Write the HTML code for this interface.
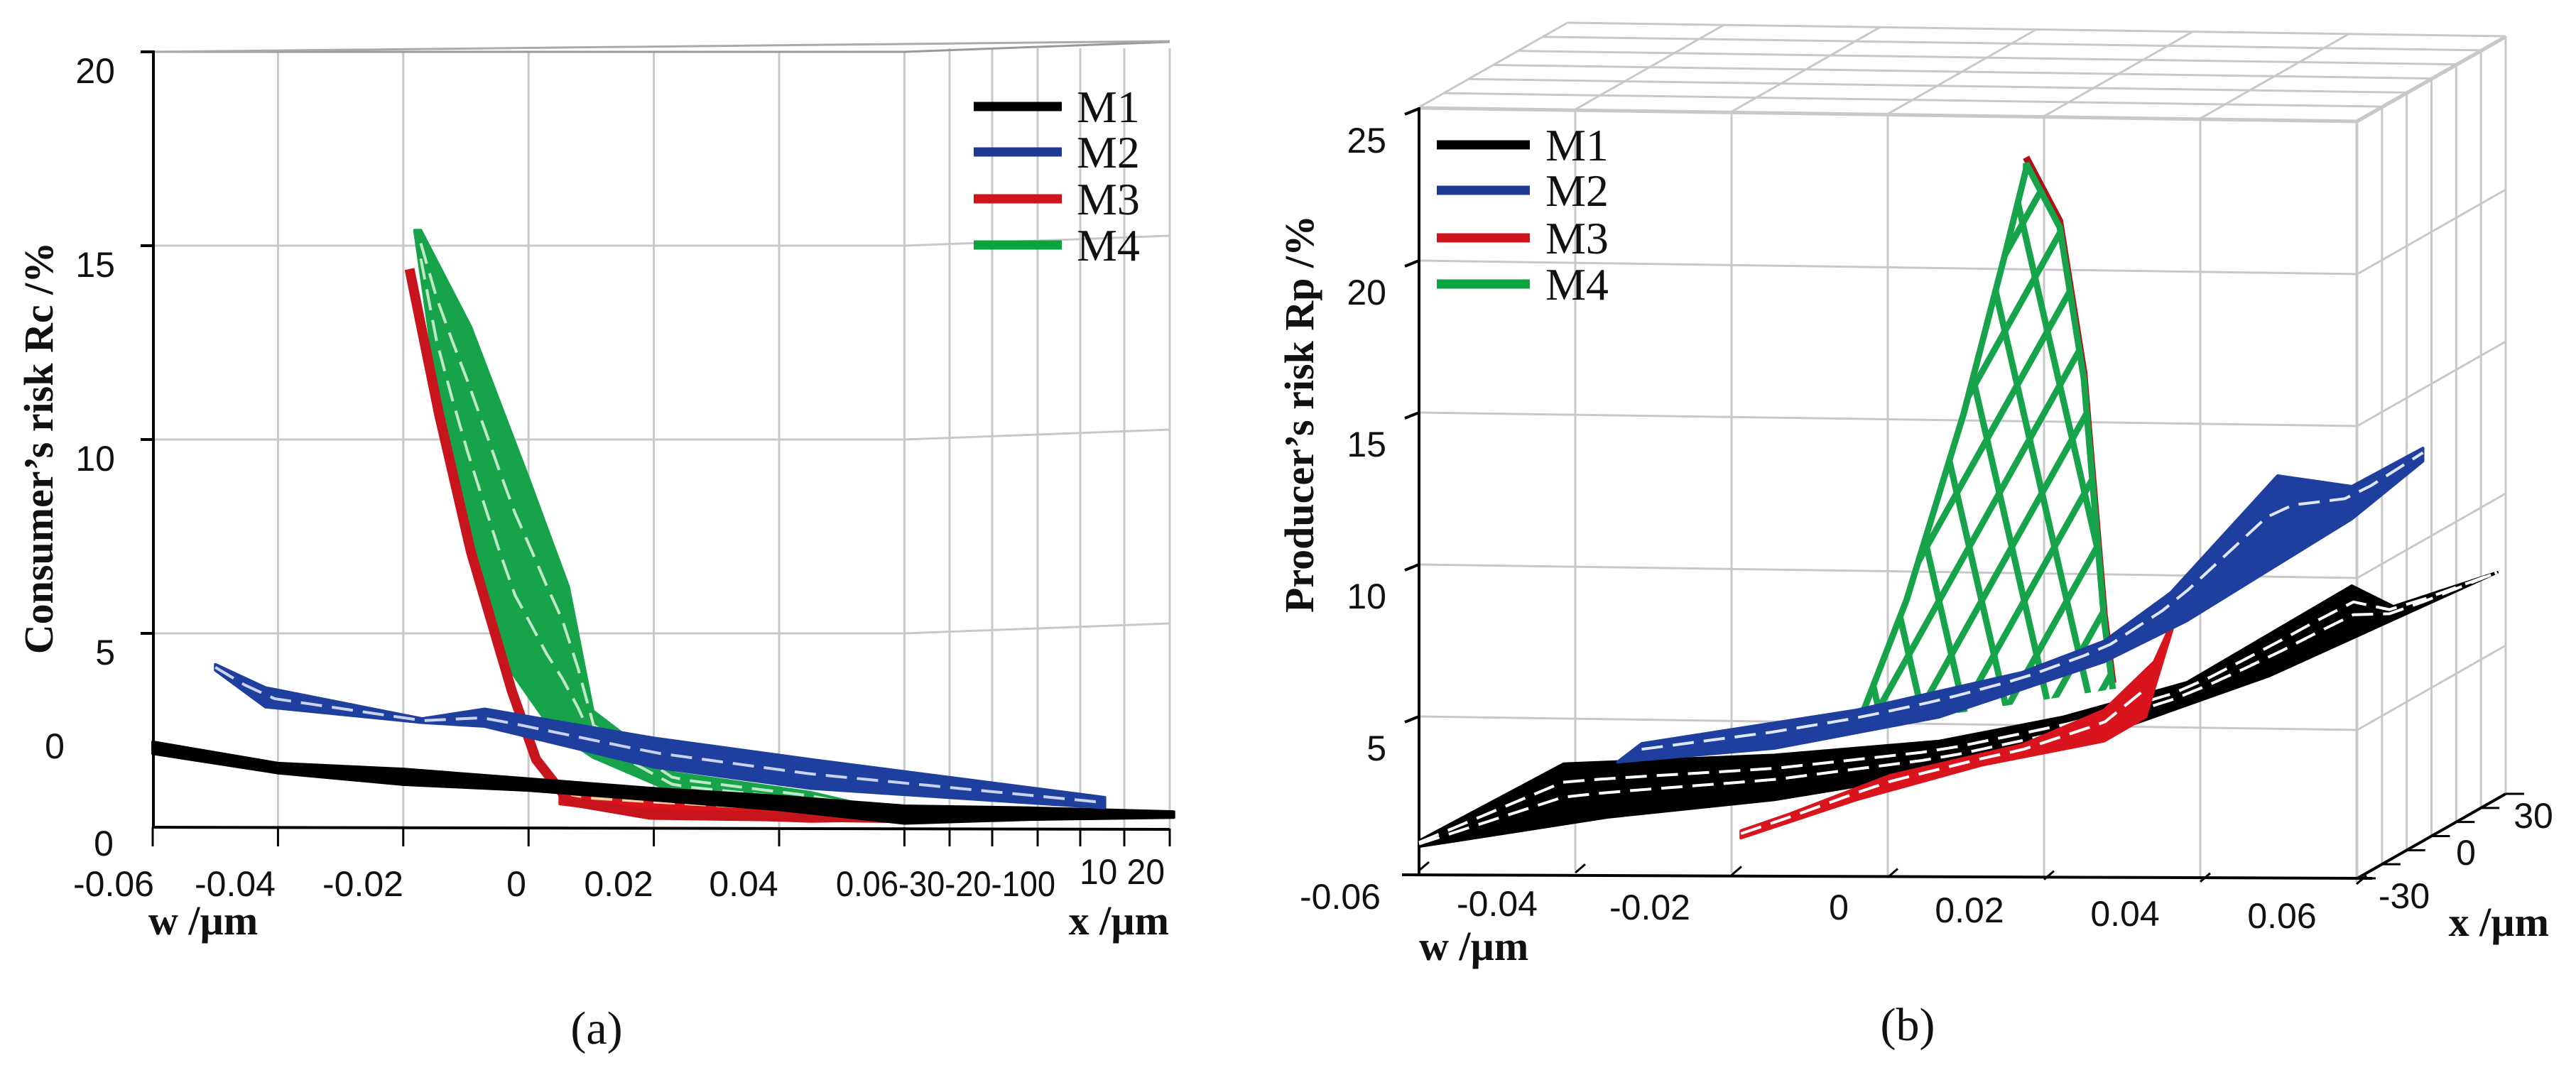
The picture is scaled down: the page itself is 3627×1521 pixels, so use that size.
<!DOCTYPE html>
<html><head><meta charset="utf-8"><style>
html,body{margin:0;padding:0;background:#fff;}
svg{display:block;}
.tk{font-family:"Liberation Sans",sans-serif;font-size:50px;fill:#111;}
.ti{font-family:"Liberation Serif",serif;font-weight:bold;font-size:58px;fill:#111;}
.lg{font-family:"Liberation Serif",serif;font-size:64px;fill:#111;}
.cap{font-family:"Liberation Serif",serif;font-size:66px;fill:#111;}
</style></head><body>
<svg id="fig" width="3627" height="1521" viewBox="0 0 3627 1521" xmlns="http://www.w3.org/2000/svg">
<g id="gridA"></g>
<g id="gridB"></g>
<g id="seriesA"></g>
<g id="seriesB"></g>
<g id="textG"></g>
</svg>
<script>
// ---------- Panel (a) data ----------
const aYTicks=[0,5,10,15,20];
const aWTicks=[-0.06,-0.04,-0.02,0,0.02,0.04,0.06];
const aM1W=[-0.06,-0.04,-0.02,0,0.02,0.04,0.06,0.08,0.103];
const aM1Top=[2.2,1.65,1.5,1.25,1.0,0.8,0.55,0.5,0.4];
const aM1Bot=[1.9,1.4,1.1,0.95,0.7,0.45,0.1,0.2,0.25];
const aM2W=[-0.05,-0.042,-0.017,-0.007,0.02,0.045,0.092];
const aM2Top=[4.2,3.6,2.8,3.05,2.3,1.75,0.77];
const aM2Bot=[4.05,3.1,2.7,2.6,1.55,1.0,0.5];
const aM3W=[-0.019,-0.0143,-0.0092,-0.0027,0.0012,0.0064,0.0194,0.061];
const aM3R=[14.4,10.66,7.1,3.53,1.75,0.68,0.32,0.23];
const aM3PatchW=[0.005,0.02,0.045,0.061];
const aM3PatchTop=[1.0,1.0,0.7,0.45];
const aM3PatchBot=[0.6,0.3,0.15,0.2];
const aM4LeftW=[-0.0182,-0.0143,-0.0092,-0.0027,0.0038,0.0103,0.0233,0.045,0.058];
const aM4LeftR=[15.4,11.0,7.5,4.0,2.5,1.8,0.9,0.6,0.35];
const aM4RightW=[-0.0172,-0.0092,0.0,0.0064,0.0103,0.0233,0.045,0.058];
const aM4RightR=[15.4,12.9,9.0,6.2,3.0,1.4,0.9,0.41];
// ---------- Panel (b) data ----------
const bYTicks=[5,10,15,20,25];
const bWTicks=[-0.06,-0.04,-0.02,0,0.02,0.04,0.06];
const bM1LowW=[-0.06,-0.0357,-0.0145,0.0066,0.0277,0.0489,0.078];
const bM1LowR=[0.72,1.69,2.26,3.16,4.41,6.34,9.74];
const bM1UpW=[-0.06,-0.0415,-0.0145,0.0066,0.0224,0.0383,0.0594,0.0647,0.078];
const bM1UpR=[0.91,3.44,3.73,4.19,4.98,6.12,9.3,8.62,9.74];
const bM2LowW=[-0.0346,-0.0145,0.0066,0.0277,0.0383,0.0594,0.0685];
const bM2LowR=[3.5,3.95,4.98,6.8,8.15,11.5,13.4];
const bM2UpW=[-0.0315,-0.004,0.0172,0.0277,0.0362,0.0499,0.0594,0.0685];
const bM2UpR=[4.11,5.21,6.45,7.48,9.07,12.92,12.57,13.83];
const bM3LowW=[-0.0188,-0.004,0.0119,0.0277,0.033];
const bM3LowR=[1.0,2.26,3.39,4.19,4.98];
const bM3UpW=[-0.0188,-0.0125,0.0003,0.0172,0.0277,0.0341,0.0373];
const bM3UpR=[1.24,1.8,3.06,4.07,5.21,6.8,8.62];
const bM4LeftW=[-0.004,0.0024,0.0097,0.015,0.0177];
const bM4LeftR=[4.6,8.83,14.95,20.2,23.0];
const bM4RightW=[0.0177,0.022,0.0251,0.0277,0.0288];
const bM4RightR=[23.2,21.1,16.1,8.15,5.9];
const legendNames=['M1','M2','M3','M4'];
const legendColors=['#000','#1f3a93','#d0141c','#0aa340'];

const NS='http://www.w3.org/2000/svg';
function mk(tag,attrs,parent){const e=document.createElementNS(NS,tag);for(const k in attrs)e.setAttribute(k,attrs[k]);parent.appendChild(e);return e;}
const ax={x:w=>215+(w+0.06)*8820,y:r=>1165-r*54.6};
const bx={x:w=>1998+(w+0.06)*11000,y:r=>1223-r*42.8};
function pts(A,W,R){return W.map((w,i)=>A.x(w).toFixed(1)+','+A.y(R[i]).toFixed(1));}
function interp(W,R,w){if(w<=W[0])return R[0];for(let i=1;i<W.length;i++){if(w<=W[i]){const t=(w-W[i-1])/(W[i]-W[i-1]);return R[i-1]+t*(R[i]-R[i-1]);}}return R[R.length-1];}
function midLine(A,W1,R1,W2,R2,t,parent,color,name){const lo=Math.max(W1[0],W2[0]),hi=Math.min(W1[W1.length-1],W2[W2.length-1]);const p=[];for(let k=0;k<=30;k++){const w=lo+(hi-lo)*k/30;const r=interp(W1,R1,w)*(1-t)+interp(W2,R2,w)*t;p.push(A.x(w).toFixed(1)+','+A.y(r).toFixed(1));}
 const e=mk('polyline',{points:p.join(' '),fill:'none',stroke:color,'stroke-width':4,'stroke-dasharray':'30 14'},parent);
 
 }

// ---------- Grid A ----------
const gA=document.getElementById('gridA');
const grey='#c8c8c8';
aWTicks.slice(1).forEach(w=>{const l=mk('line',{x1:ax.x(w),y1:73,x2:ax.x(w),y2:1165,stroke:grey,'stroke-width':3},gA);
 
 });
[1337,1397,1461,1521,1583,1647].forEach(x=>{const l=mk('line',{x1:x,y1:68,x2:x,y2:1168,stroke:grey,'stroke-width':3},gA);
 
 });
aYTicks.slice(1).forEach(r=>{const y=ax.y(r);const l=mk('polyline',{points:`216,${y} ${ax.x(0.06)},${y} 1647,${y-14}`,fill:'none',stroke:r==20?'#999':grey,'stroke-width':3},gA);
 
 
 const t=mk('line',{x1:198,y1:y,x2:216,y2:y,stroke:'#000','stroke-width':4},gA);
 
 });
mk('line',{x1:216,y1:73,x2:1647,y2:58,stroke:'#aaa','stroke-width':3},gA);
const axA=mk('line',{x1:216,y1:71,x2:216,y2:1167,stroke:'#000','stroke-width':4},gA);


const flA=mk('line',{x1:216,y1:1165,x2:1647,y2:1168,stroke:'#000','stroke-width':4},gA);


aWTicks.forEach(w=>{const l=mk('line',{x1:ax.x(w),y1:1165,x2:ax.x(w),y2:1192,stroke:'#000','stroke-width':3},gA);
 
 });
[1337,1397,1461,1521,1583,1647].forEach(x=>{const l=mk('line',{x1:x,y1:1167,x2:x,y2:1192,stroke:'#000','stroke-width':3},gA);
 
 });

// ---------- Grid B ----------
const gB=document.getElementById('gridB');
const dX=209,dY=-119;
const frontTopY=151, frontRight=3319;
function fy(x,y){return y+(x-1998)*(19/1321);}
bWTicks.forEach(w=>{const x=bx.x(w);
 if(w>-0.06){const l=mk('line',{x1:x,y1:fy(x,frontTopY),x2:x,y2:fy(x,1223),stroke:grey,'stroke-width':3},gB);
 
 }
 const l2=mk('line',{x1:x,y1:fy(x,frontTopY),x2:x+dX,y2:fy(x,frontTopY)+dY,stroke:grey,'stroke-width':3},gB);
 
 
 const tk=mk('line',{x1:x,y1:fy(x,1226),x2:x+14,y2:fy(x,1226)-12,stroke:'#000','stroke-width':3},gB);
 
 });
for(let k=0;k<=6;k++){const t=k/6;const ox=dX*t,oy=dY*t;
 const l=mk('line',{x1:1998+ox,y1:frontTopY+oy,x2:frontRight+ox,y2:fy(frontRight,frontTopY)+oy,stroke:grey,'stroke-width':3},gB);
 
 
 const v=mk('line',{x1:frontRight+ox,y1:fy(frontRight,frontTopY)+oy,x2:frontRight+ox,y2:1237+oy,stroke:grey,'stroke-width':3},gB);
 
 }
bYTicks.forEach(r=>{const y=bx.y(r);
 const l=mk('polyline',{points:`1998,${y} ${frontRight},${fy(frontRight,y)} ${frontRight+dX},${fy(frontRight,y)+dY}`,fill:'none',stroke:grey,'stroke-width':3},gB);
 
 
 const t=mk('line',{x1:1978,y1:y+8,x2:1998,y2:y,stroke:'#000','stroke-width':4},gB);
 
 });
const axB=mk('line',{x1:1998,y1:151,x2:1998,y2:1230,stroke:'#000','stroke-width':4},gB);


const flB=mk('line',{x1:1974,y1:1232,x2:3340,y2:1237,stroke:'#000','stroke-width':4},gB);


const dpB=mk('line',{x1:3319,y1:1237,x2:3528,y2:1118,stroke:'#000','stroke-width':4},gB);


for(let k=0;k<=6;k++){const t=k/6;const x=3319+dX*t,y=1237+dY*t;
 const l=mk('line',{x1:x,y1:y,x2:x+26,y2:y,stroke:'#000','stroke-width':3},gB);
 
 }

// ---------- Series A ----------
const sA=document.getElementById('seriesA');
function band(A,W1,R1,W2,R2,color,parent,name){const p=pts(A,W1,R1).concat(pts(A,W2,R2).reverse());
 const e=mk('polygon',{points:p.join(' '),fill:color,stroke:color,'stroke-width':4,'stroke-linejoin':'round'},parent);
 
 return e;}
band(ax,aM3PatchW,aM3PatchTop,aM3PatchW,aM3PatchBot,'#d9141c',sA,'panel-a-m3-surface-floor');
midLine(ax,aM3PatchW,aM3PatchTop,aM3PatchW,aM3PatchBot,0.5,sA,'#f6d0a0','panel-a-m3-mesh');
band(ax,aM4LeftW,aM4LeftR,aM4RightW,aM4RightR,'#16a34a',sA,'panel-a-m4-surface');
midLine(ax,aM4LeftW,aM4LeftR,aM4RightW,aM4RightR,0.35,sA,'#bfe9c6','panel-a-m4-mesh-1');
midLine(ax,aM4LeftW,aM4LeftR,aM4RightW,aM4RightR,0.7,sA,'#bfe9c6','panel-a-m4-mesh-2');
const a3=mk('polyline',{points:pts(ax,aM3W,aM3R).join(' '),fill:'none',stroke:'#c8141c','stroke-width':14,'stroke-linejoin':'round'},sA);


band(ax,aM1W,aM1Top,aM1W,aM1Bot,'#000',sA,'panel-a-m1-surface');
band(ax,aM2W,aM2Top,aM2W,aM2Bot,'#1f3f9e',sA,'panel-a-m2-surface');
midLine(ax,aM2W,aM2Top,aM2W,aM2Bot,0.5,sA,'#c9d3f0','panel-a-m2-mesh');

// ---------- Series B ----------
const sB=document.getElementById('seriesB');
const defs=mk('defs',{},sB);
const cp=mk('clipPath',{id:'clipM4'},defs);
mk('polygon',{points:pts(bx,bM4LeftW,bM4LeftR).concat(pts(bx,bM4RightW,bM4RightR).slice(1)).join(' ')},cp);
const redEdge=mk('polyline',{points:pts(bx,bM4RightW,bM4RightR.map(r=>r+0.2)).join(' '),fill:'none',stroke:'#b01018','stroke-width':10},sB);


const mesh=mk('g',{'clip-path':'url(#clipM4)'},sB);


for(let k=-30;k<30;k++){const x0=2500+k*60;
 mk('line',{x1:x0,y1:1150,x2:x0+560,y2:150,stroke:'#16a34a','stroke-width':9},mesh);
 mk('line',{x1:x0,y1:1150,x2:x0-230,y2:150,stroke:'#16a34a','stroke-width':9},mesh);}
const gOut=mk('polyline',{points:pts(bx,bM4LeftW,bM4LeftR).concat(pts(bx,bM4RightW,bM4RightR)).join(' '),fill:'none',stroke:'#16a34a','stroke-width':9},sB);


band(bx,bM1UpW,bM1UpR,bM1LowW,bM1LowR,'#000',sB,'panel-b-m1-surface');
midLine(bx,bM1UpW,bM1UpR,bM1LowW,bM1LowR,0.3,sB,'#fff','panel-b-m1-mesh-1');
midLine(bx,bM1UpW,bM1UpR,bM1LowW,bM1LowR,0.55,sB,'#fff','panel-b-m1-mesh-2');
band(bx,bM3UpW,bM3UpR,bM3LowW,bM3LowR,'#d9141c',sB,'panel-b-m3-surface');
midLine(bx,bM3UpW,bM3UpR,bM3LowW,bM3LowR,0.4,sB,'#fff','panel-b-m3-mesh');
band(bx,bM2UpW,bM2UpR,bM2LowW,bM2LowR,'#1f3f9e',sB,'panel-b-m2-surface');
midLine(bx,bM2UpW,bM2UpR,bM2LowW,bM2LowR,0.35,sB,'#dfe6fa','panel-b-m2-mesh');

// ---------- Text ----------
const T=document.getElementById('textG');
function txt(s,x,y,cls,name,extra){const e=mk('text',Object.assign({x:x,y:y,class:cls},extra||{}),T);e.textContent=s;
 
 return e;}
aYTicks.slice(1).forEach(r=>txt(String(r),162,ax.y(r)+44,'tk','panel-a-y-tick-label',{'text-anchor':'end'}));
txt('0',146,1205,'tk','panel-a-y-tick-label',{'text-anchor':'middle'});
txt('0',77,1068,'tk','panel-a-stray-label',{'text-anchor':'middle'});
const aXLab=['-0.06','-0.04','-0.02','0','0.02','0.04'];const aXC=[160,331,511,727,871,1047];
aXLab.forEach((s,i)=>txt(s,aXC[i],1262,'tk','panel-a-w-tick-label',{'text-anchor':'middle'}));
txt('0.06-30-20-100',1177,1262,'tk','panel-a-x-tick-labels',{textLength:309,lengthAdjust:'spacingAndGlyphs'});
txt('10 20',1520,1245,'tk','panel-a-x-tick-labels-2',{textLength:120,lengthAdjust:'spacingAndGlyphs'});
txt('w /µm',209,1316,'ti','panel-a-w-axis-title');
txt('x /µm',1646,1316,'ti','panel-a-x-axis-title',{'text-anchor':'end'});
txt('Consumer’s risk Rc /%',0,0,'ti','panel-a-y-axis-title',{'text-anchor':'middle',transform:'translate(74,631) rotate(-90)'});
txt('(a)',840,1470,'cap','panel-a-caption',{'text-anchor':'middle'});
bYTicks.forEach(r=>txt(String(r),1952,bx.y(r)+62,'tk','panel-b-y-tick-label',{'text-anchor':'end'}));
const bXC=[1887,2108,2323,2589,2773,2992,3213];const bXY=[1280,1290,1295,1295,1299,1304,1307];
bWTicks.forEach((w,i)=>txt(w===0?'0':w.toFixed(2),bXC[i],bXY[i],'tk','panel-b-w-tick-label',{'text-anchor':'middle'}));
txt('-30',3385,1279,'tk','panel-b-x-tick-label',{'text-anchor':'middle'});
txt('0',3472,1218,'tk','panel-b-x-tick-label',{'text-anchor':'middle'});
txt('30',3567,1166,'tk','panel-b-x-tick-label',{'text-anchor':'middle'});
txt('w /µm',1998,1352,'ti','panel-b-w-axis-title');
txt('x /µm',3589,1318,'ti','panel-b-x-axis-title',{'text-anchor':'end'});
txt('Producer’s risk Rp /%',0,0,'ti','panel-b-y-axis-title',{'text-anchor':'middle',transform:'translate(1849,583) rotate(-90)'});
txt('(b)',2686,1465,'cap','panel-b-caption',{'text-anchor':'middle'});
const legA=[150,214,280,345], legB=[204,268,335,400];
legendNames.forEach((n,i)=>{
 const l=mk('line',{x1:1371,y1:legA[i],x2:1495,y2:legA[i],stroke:legendColors[i],'stroke-width':13},T);
 
 
 txt(n,1516,legA[i]+22,'lg','panel-a-legend-entry');
 const l2=mk('line',{x1:2023,y1:legB[i],x2:2154,y2:legB[i],stroke:legendColors[i],'stroke-width':13},T);
 
 
 txt(n,2176,legB[i]+22,'lg','panel-b-legend-entry');
});
</script>
</body></html>
